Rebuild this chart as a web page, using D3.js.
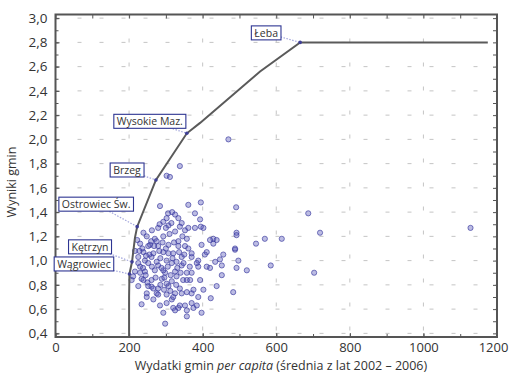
<!DOCTYPE html>
<html>
<head>
<meta charset="utf-8">
<script src="https://cdn.jsdelivr.net/npm/d3@7"></script>
<style>
  body { margin: 0; background: #fff; }
  text { font-family: "Open Sans", "Noto Sans", sans-serif; fill: #333; }
</style>
</head>
<body>
<svg id="chart" width="511" height="374"></svg>
<script>
// wydatki per capita (x) i wynik gminy (y)
const gminy = [
  [687,1.39],[719,1.23],[1128,1.27],[545,1.14],[569,1.18],[615,1.18],[585,0.96],[703,0.90],
  [470,2.0],[338,1.78],[302,1.70],[311,1.69],
  [284,1.45],[361,1.46],[395,1.48],[491,1.44],[306,1.39],[317,1.40],[325,1.38],[293,1.32],
  [343,1.31],[393,1.34],[352,1.25],[402,1.27],[239,1.23],[492,1.23],[429,1.18],[488,1.09],
  [520,0.92],[492,0.94],[420,0.94],[411,1.07],[447,1.01],[438,0.79],[422,0.69],[375,0.61],
  [352,0.63],[293,0.57],[298,0.48],[234,0.64],[248,0.70],[357,0.54],[320,0.61],
  [302,1.35],[334,1.35],[279,1.27],[307,1.29],[338,1.28],[325,1.24],[248,1.20],[270,1.18],
  [293,1.20],[230,1.14],[257,1.13],[279,1.12],[307,1.13],[334,1.16],[352,1.12],[239,1.07],
  [266,1.06],[293,1.07],[320,1.06],[343,1.03],[243,1.00],[275,0.99],[302,1.00],[329,0.99],
  [225,1.03],
  [379,1.39],[395,1.28],[379,1.27],[361,1.27],[357,1.18],[420,1.17],[438,1.17],[429,1.14],
  [397,1.13],[492,1.21],[488,1.10],[361,1.10],[370,1.03],[406,1.05],[456,1.05],[497,1.00],
  [388,1.00],[434,0.99],
  [225,0.98],[252,0.98],[279,0.96],[316,0.98],[343,0.96],[216,0.91],[243,0.91],[270,0.92],
  [298,0.90],[325,0.91],[357,0.90],[207,0.84],[234,0.85],[261,0.84],[289,0.85],[316,0.83],
  [347,0.84],[225,0.79],[252,0.79],[279,0.77],[307,0.79],[338,0.77],[248,0.73],[275,0.73],
  [302,0.72],[325,0.73],[284,0.63],[325,0.59],[334,0.61],[266,0.68],[316,0.68],
  [388,0.95],[411,0.95],[452,0.96],[452,0.88],[366,0.84],[483,0.74],[388,0.70],[370,0.73],
  [357,0.74],[370,0.65],[384,0.63],[357,0.59],[397,0.57],
  [222,1.17],[216,1.08],[211,0.87],[252,1.12],[275,1.16],[293,0.92],[329,0.87],[357,0.84],
  [302,0.81],[261,0.785],[279,0.72],[320,0.70],[343,0.73],[239,0.84],[261,1.03],[307,1.06],
  [334,1.12],[370,1.06],[384,0.98],[370,0.90],[393,0.84],[402,0.76],[375,0.76],[302,0.65],
  [338,0.63],
  [230,0.95],[236,1.10],[245,0.88],[255,1.05],[262,0.95],[268,1.12],[272,0.86],[285,1.02],
  [288,0.94],[291,1.15],[296,0.86],[300,1.10],[305,0.95],[310,1.22],[313,0.88],[318,1.02],
  [322,1.15],[328,0.80],[331,0.94],[336,1.07],[340,0.90],[345,1.20],[348,0.98],[262,1.25],
  [283,1.30],[300,1.27],[315,1.31],[230,0.90],[250,0.82],[266,0.77],[285,0.80],[295,0.76],
  [312,0.75],[260,1.16],[282,1.08],[246,1.04],[228,1.08],[238,0.94],[350,1.05],[365,0.95]
];

// granica efektywnosci
const frontierX = [200, 200, 201, 208, 216, 222, 273, 357, 393, 556, 665, 1175];
const frontierY = [0.37, 0.70, 0.89, 0.99, 1.19, 1.28, 1.665, 2.05, 2.136, 2.56, 2.80, 2.80];

const labelNames = ["Łeba", "Wysokie Maz.", "Brzeg", "Ostrowiec Św.", "Kętrzyn", "Wągrowiec"];
const labelX = [665, 357, 273, 222, 208, 201];
const labelY = [2.80, 2.05, 1.665, 1.28, 0.99, 0.89];
// przesuniecie ramki etykiety wzgledem punktu (px)
const labelOffsets = [[-34, -9.5], [-37, -12], [-29, -10], [-41, -22.5], [-42, -15], [-45.5, -10]];

const xTicks = [0, 200, 400, 600, 800, 1000, 1200];
const yTicks = [0.4, 0.6, 0.8, 1.0, 1.2, 1.4, 1.6, 1.8, 2.0, 2.2, 2.4, 2.6, 2.8, 3.0];

const svg = d3.select('#chart');
const mLeft = 55.5, mRight = 497, mTop = 14.5, mBottom = 337;

const x = d3.scaleLinear().domain([0, 1200]).range([mLeft, mRight]);
const y = d3.scaleLinear().domain([0.37, 3.03]).range([mBottom, mTop]);
const comma = d => d3.format('.1f')(d).replace('.', ',');

// siatka
svg.append('g').selectAll('line').data(yTicks).enter().append('line')
  .attr('x1', mLeft).attr('x2', mRight)
  .attr('y1', d => y(d)).attr('y2', d => y(d))
  .attr('stroke', '#c4c4c4').attr('stroke-width', 1)
  .attr('stroke-dasharray', '4,18');
svg.append('g').selectAll('line').data(xTicks.slice(1, -1)).enter().append('line')
  .attr('x1', d => x(d)).attr('x2', d => x(d))
  .attr('y1', mTop).attr('y2', mBottom)
  .attr('stroke', '#c4c4c4').attr('stroke-width', 1)
  .attr('stroke-dasharray', '4,20');

// punkty gmin
svg.append('g').selectAll('circle').data(gminy).enter().append('circle')
  .attr('cx', d => x(d[0])).attr('cy', d => y(d[1]))
  .attr('r', 2.6)
  .attr('fill', '#5858b8').attr('fill-opacity', 0.4)
  .attr('stroke', '#33339a').attr('stroke-opacity', 0.7).attr('stroke-width', 0.9);

// linie prowadzace
const lab = labelNames.map((n, i) => ({ name: n, px: x(labelX[i]), py: y(labelY[i]), off: labelOffsets[i] }));
svg.append('g').selectAll('line').data(lab).enter().append('line')
  .attr('x1', d => d.px + d.off[0]).attr('y1', d => d.py + d.off[1])
  .attr('x2', d => d.px).attr('y2', d => d.py)
  .attr('stroke', '#a3a6dc').attr('stroke-width', 1.2)
  .attr('stroke-dasharray', '1.5,1.5');

// granica
svg.append('path')
  .datum(d3.zip(frontierX, frontierY))
  .attr('d', d3.line().x(d => x(d[0])).y(d => y(d[1])))
  .attr('fill', 'none').attr('stroke', '#5a5a5a').attr('stroke-width', 2);

svg.append('g').selectAll('circle').data(lab).enter().append('circle')
  .attr('cx', d => d.px).attr('cy', d => d.py).attr('r', 1.8)
  .attr('fill', '#3f3f96');

// ramka wykresu
svg.append('rect')
  .attr('x', mLeft).attr('y', mTop).attr('width', mRight - mLeft).attr('height', mBottom - mTop)
  .attr('fill', 'none').attr('stroke', '#555').attr('stroke-width', 2);

// osie
const styleAxis = g => { g.select('.domain').remove(); g.selectAll('.tick line').attr('stroke', '#555'); };

svg.append('g').attr('transform', `translate(0,${mBottom})`)
  .call(d3.axisBottom(x).tickValues(xTicks).tickSize(-4).tickPadding(6).tickFormat(d3.format('d')))
  .call(styleAxis)
  .call(g => g.selectAll('text').style('font-size', '13px').attr('fill', '#333').style('font-family', '"Open Sans", sans-serif'))
  .call(g => g.selectAll('text').filter(d => d === 1200).attr('dx', '-4'));
svg.append('g').attr('transform', `translate(0,${mBottom})`)
  .call(d3.axisBottom(x).ticks(12).tickSize(-3).tickFormat(''))
  .call(styleAxis);
svg.append('g').attr('transform', `translate(0,${mTop})`)
  .call(d3.axisTop(x).ticks(12).tickSize(-4).tickFormat(''))
  .call(styleAxis);

svg.append('g').attr('transform', `translate(${mLeft},0)`)
  .call(d3.axisLeft(y).tickValues(yTicks).tickSize(-4).tickPadding(8).tickFormat(comma))
  .call(styleAxis)
  .call(g => g.selectAll('text').style('font-size', '13.5px').attr('fill', '#333').style('font-family', '"Open Sans", sans-serif'));
svg.append('g').attr('transform', `translate(${mLeft},0)`)
  .call(d3.axisLeft(y).ticks(26).tickSize(-3).tickFormat(''))
  .call(styleAxis);
svg.append('g').attr('transform', `translate(${mRight},0)`)
  .call(d3.axisRight(y).ticks(26).tickSize(-4).tickFormat(''))
  .call(styleAxis);

// etykiety w ramkach
const lg = svg.append('g').selectAll('g').data(lab).enter().append('g')
  .attr('transform', d => `translate(${d.px + d.off[0]},${d.py + d.off[1]})`);
lg.append('rect').attr('class', 'box');
lg.append('text').text(d => d.name)
  .attr('text-anchor', 'middle').attr('dy', '0.36em')
  .style('font-size', '10.5px');
lg.each(function () {
  const t = d3.select(this).select('text').node().getBBox();
  d3.select(this).select('rect')
    .attr('x', t.x - 3).attr('y', -7).attr('width', t.width + 6).attr('height', 14)
    .attr('fill', '#fff').attr('stroke', '#2e3592').attr('stroke-width', 1.1);
});

// tytuly osi
svg.append('text')
  .attr('transform', 'translate(16,182) rotate(-90)')
  .attr('text-anchor', 'middle')
  .style('font-size', '12.5px')
  .text('Wyniki gmin');

const xt = svg.append('text')
  .attr('x', 281).attr('y', 370)
  .attr('text-anchor', 'middle')
  .style('font-size', '12.5px');
xt.append('tspan').text('Wydatki gmin ');
xt.append('tspan').style('font-style', 'italic').text('per capita');
xt.append('tspan').text(' (średnia z lat 2002 – 2006)');
</script>
</body>
</html>
